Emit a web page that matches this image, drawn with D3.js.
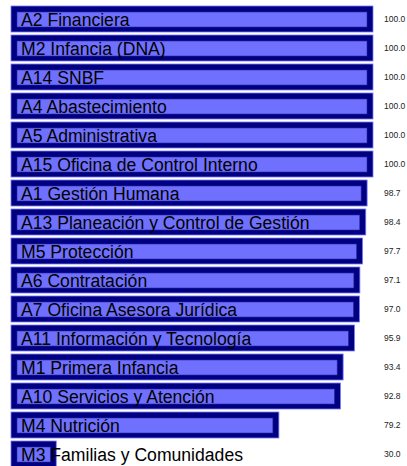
<!DOCTYPE html>
<html>
<head>
<meta charset="utf-8">
<script src="https://cdn.jsdelivr.net/npm/d3@7"></script>
<style>
html,body{margin:0;padding:0;background:#fff;}
</style>
</head>
<body>
<svg id="chart" width="407" height="466"></svg>
<script>
const categories = [
  "A2 Financiera",
  "M2 Infancia (DNA)",
  "A14 SNBF",
  "A4 Abastecimiento",
  "A5 Administrativa",
  "A15 Oficina de Control Interno",
  "A1 Gestión Humana",
  "A13 Planeación y Control de Gestión",
  "M5 Protección",
  "A6 Contratación",
  "A7 Oficina Asesora Jurídica",
  "A11 Información y Tecnología",
  "M1 Primera Infancia",
  "A10 Servicios y Atención",
  "M4 Nutrición",
  "M3 Familias y Comunidades"
];
const values = [100.0, 100.0, 100.0, 100.0, 100.0, 100.0, 98.7, 98.4, 97.7, 97.1, 97.0, 95.9, 93.4, 92.8, 79.2, 30.0];
const valueLabels = ["100.0","100.0","100.0","100.0","100.0","100.0","98.7","98.4","97.7","97.1","97.0","95.9","93.4","92.8","79.2","30.0"];
const xDomain = [20, 100];

const svg = d3.select("#chart");
const x = d3.scaleLinear().domain(xDomain).range([11, 373]);
const y = d3.scaleBand().domain(categories).range([6, 467]).paddingInner(3/29).paddingOuter(0);

const data = categories.map((c, i) => ({c, v: values[i], label: valueLabels[i]}));

const g = svg.append("g");
const bh = y.bandwidth();

const bars = g.selectAll("g.bar").data(data).join("g").attr("class", "bar");

bars.append("rect")
  .attr("x", x(xDomain[0]))
  .attr("y", d => y(d.c))
  .attr("width", d => x(d.v) - x(xDomain[0]))
  .attr("height", bh)
  .attr("fill", "#000080")
  .attr("stroke", "#7a7aff")
  .attr("stroke-width", 0.8);

bars.append("rect")
  .attr("x", x(xDomain[0]) + 6)
  .attr("y", d => y(d.c) + 6)
  .attr("width", d => Math.max(0, x(d.v) - x(xDomain[0]) - 12))
  .attr("height", bh - 11)
  .attr("fill", "#7070ff")
  .attr("stroke", "#2a2aa0")
  .attr("stroke-width", 0.6);

bars.append("text")
  .attr("x", 21)
  .attr("y", d => y(d.c) + 20)
  .attr("font-family", "'Liberation Sans', Arial, sans-serif")
  .attr("font-size", 17.6)
  .attr("fill", "#000")
  .text(d => d.c);

bars.append("text")
  .attr("x", 384)
  .attr("y", d => y(d.c) + bh / 2 + 3)
  .attr("font-family", "'Liberation Sans', Arial, sans-serif")
  .attr("font-size", 8.5)
  .attr("fill", "#222")
  .text(d => d.label);
</script>
</body>
</html>
